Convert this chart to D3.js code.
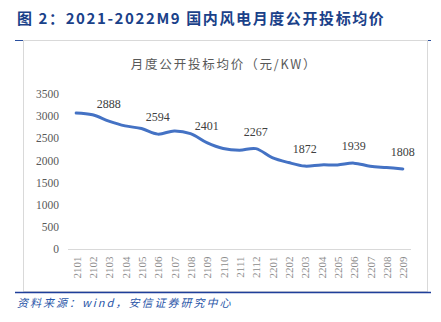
<!DOCTYPE html>
<html><head><meta charset="utf-8">
<script src="https://cdn.jsdelivr.net/npm/d3@7"></script>
<style>body{margin:0;background:#fff;}svg{display:block;}</style>
</head><body>
<script>
const categories = ["2101","2102","2103","2104","2105","2106","2107","2108","2109","2110","2111","2112","2201","2202","2203","2204","2205","2206","2207","2208","2209"];
const values = [3070,3030,2888,2780,2720,2594,2667,2607,2401,2268,2230,2267,2065,1952,1872,1899,1899,1939,1869,1839,1808];
const labeledMonths = ["2103","2106","2109","2112","2203","2206","2209"];
const yTicks = [0,500,1000,1500,2000,2500,3000,3500];
const titleText = "图 2：2021-2022M9 国内风电月度公开投标均价";
const chartTitle = "月度公开投标均价（元/KW）";
const sourceText = "资料来源：wind，安信证券研究中心";

const W = 441, H = 322;
const svg = d3.select("body").append("svg").attr("width", W).attr("height", H);

svg.append("text").attr("x", 17).attr("y", 24)
  .attr("font-family", "'Noto Sans CJK SC', 'Liberation Sans', sans-serif")
  .attr("font-weight", "bold").attr("font-size", 15).attr("letter-spacing", 1.6).attr("fill", "#1a4189")
  .text(titleText);

svg.append("line").attr("x1", 15).attr("x2", 431).attr("y1", 40.5).attr("y2", 40.5)
  .attr("stroke", "#2a4f9e").attr("stroke-width", 1);
svg.append("rect").attr("x", 23.5).attr("y", 40.5).attr("width", 404).attr("height", 251)
  .attr("fill", "#fff").attr("stroke", "#d9d9d9").attr("stroke-width", 1);
svg.append("line").attr("x1", 15).attr("x2", 431).attr("y1", 292.5).attr("y2", 292.5)
  .attr("stroke", "#1f3f9a").attr("stroke-width", 1.5);

svg.append("text").attr("x", 17).attr("y", 307)
  .attr("font-family", "'Noto Sans CJK SC', sans-serif")
  .attr("font-style", "italic").attr("font-size", 11).attr("letter-spacing", 2).attr("fill", "#2a56a8")
  .text(sourceText);

svg.append("text").attr("x", 224).attr("y", 69).attr("text-anchor", "middle")
  .attr("font-family", "'Noto Sans CJK SC', serif").attr("font-size", 12.5).attr("letter-spacing", 1.8).attr("fill", "#595959")
  .text(chartTitle);

const x = d3.scalePoint().domain(categories).range([68, 411]).padding(0.5);
const y = d3.scaleLinear().domain([0, 3500]).range([249, 94]);

const yAxis = svg.append("g").attr("transform", "translate(68,0)")
  .call(d3.axisLeft(y).tickValues(yTicks).tickSize(0).tickPadding(9).tickFormat(d3.format("d")));
yAxis.select(".domain").remove();
yAxis.selectAll("text").attr("font-family", "'Liberation Serif', serif").attr("font-size", 11.5).attr("fill", "#595959");

const xAxis = svg.append("g").attr("transform", "translate(0,249.5)")
  .call(d3.axisBottom(x).tickSize(0).tickPadding(0));
xAxis.select(".domain").attr("stroke", "#d9d9d9").attr("d", "M68,0H411");
xAxis.selectAll("text")
  .attr("font-family", "'Liberation Serif', serif").attr("font-size", 11).attr("fill", "#8c8c8c")
  .attr("transform", "rotate(-90)").attr("text-anchor", "end").attr("dy", "0.35em")
  .attr("x", -7).attr("y", 0);

const line = d3.line().x((d, i) => x(categories[i])).y(d => y(d)).curve(d3.curveCatmullRom.alpha(0.5));
svg.append("path").datum(values).attr("d", line)
  .attr("fill", "none").attr("stroke", "#4472c4").attr("stroke-width", 3).attr("stroke-linecap", "round");

svg.append("g").selectAll("text").data(labeledMonths).join("text")
  .attr("x", d => x(d)).attr("y", d => y(values[categories.indexOf(d)]) - 13)
  .attr("text-anchor", "middle")
  .attr("font-family", "'Liberation Serif', serif").attr("font-size", 12).attr("fill", "#404040")
  .text(d => values[categories.indexOf(d)]);
</script>
</body></html>
